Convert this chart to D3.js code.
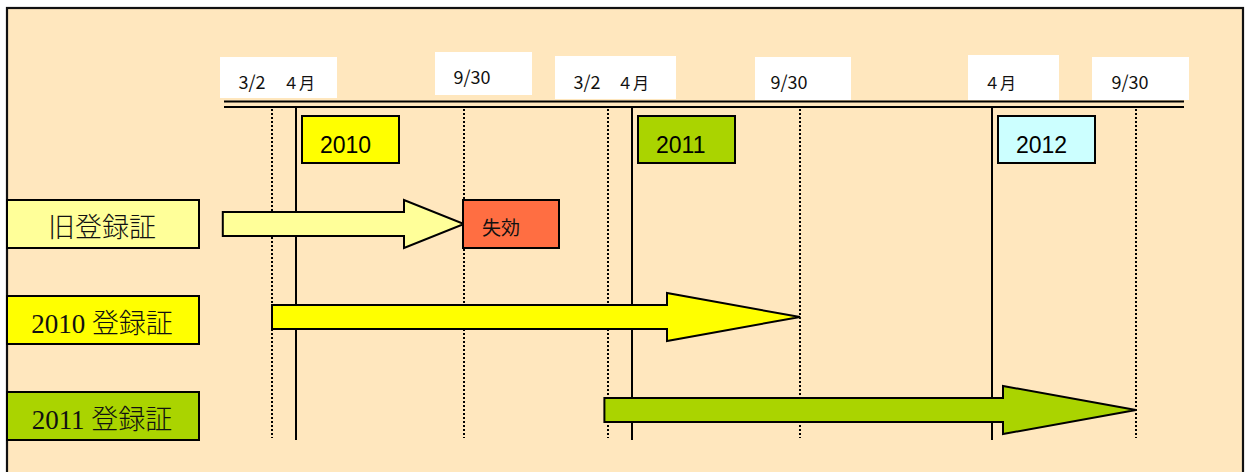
<!DOCTYPE html>
<html>
<head>
<meta charset="utf-8">
<script src="https://cdn.jsdelivr.net/npm/d3@7"></script>
<style>
  body { margin: 0; background: #fff; }
  svg { display: block; }
</style>
</head>
<body>
<svg></svg>
<script>
// ---- data ----
// schematic timeline positions (1 unit = one step on the drawing)
const tickPos = [0, 1, 8, 14, 15, 22, 30, 36];
const tickLabels = ['3/2', '４月', '9/30', '3/2', '４月', '9/30', '４月', '9/30'];
const tickKind = ['dot', 'solid', 'dot', 'dot', 'solid', 'dot', 'solid', 'dot'];

const years = ['2010', '2011', '2012'];
const yearTick = [1, 4, 6];   // index into tickPos (the 4月 lines)

const rowLabels = ['旧登録証', '2010 登録証', '2011 登録証'];
const arrowStart = [-2.05, 0, 13.85];
const arrowEnd = [8, 22, 36];
const expiredLabel = '失効';

// ---- layout / style ----
const size = {w: 1245, h: 472};
const bg = '#FFE7BE';
const rowFill = ['#FFFF99', '#FFFF00', '#AAD400'];
const yearFill = ['#FFFF00', '#AAD400', '#CCFFFF'];
const arrowHead = [60, 133, 133];
const arrowDy = [0, -3, -6];
const labelDx = [-20, 3, 8, -21, 1, -11, 8, -6];
const labelBase = [89, 89, 84, 89, 89, 89, 89, 89];
const labelBoxes = [
  {t: 0, dx: -52, w: 117, y: 57, h: 41},
  {t: 2, dx: -29, w: 97, y: 52, h: 43},
  {t: 3, dx: -53, w: 121, y: 56, h: 43},
  {t: 5, dx: -45, w: 96, y: 57, h: 43},
  {t: 6, dx: -24, w: 91, y: 55, h: 45},
  {t: 7, dx: -44, w: 97, y: 57, h: 43}
];

const svg = d3.select('svg')
  .attr('width', size.w)
  .attr('height', size.h);

const x = d3.scaleLinear().domain([0, 36]).range([272, 1136]);
const rowY = d3.scalePoint().domain(rowLabels).range([224, 416]);

// frame
svg.append('rect')
  .attr('x', 7).attr('y', 8)
  .attr('width', 1236).attr('height', 500)
  .attr('fill', bg)
  .attr('stroke', '#111')
  .attr('stroke-width', 2.2);

// white label boxes on top
svg.selectAll('rect.lbox')
  .data(labelBoxes)
  .join('rect')
  .classed('lbox', true)
  .attr('x', d => x(tickPos[d.t]) + d.dx)
  .attr('y', d => d.y)
  .attr('width', d => d.w)
  .attr('height', d => d.h)
  .attr('fill', '#fff');

svg.selectAll('text.tick')
  .data(tickLabels)
  .join('text')
  .classed('tick', true)
  .attr('x', (d, i) => x(tickPos[i]) + labelDx[i])
  .attr('y', (d, i) => labelBase[i])
  .attr('text-anchor', 'middle')
  .attr('font-family', '"Noto Sans CJK JP", sans-serif')
  .attr('font-size', d => d.startsWith('４') ? 16 : 18)
  .attr('fill', '#111')
  .text(d => d);

// double line axis
[101.5, 107].forEach(yy => {
  svg.append('line')
    .attr('x1', x(-2)).attr('x2', x(38))
    .attr('y1', yy).attr('y2', yy)
    .attr('stroke', '#000')
    .attr('stroke-width', 2.2);
});

// vertical lines
svg.selectAll('line.vl')
  .data(tickPos)
  .join('line')
  .classed('vl', true)
  .attr('x1', d => x(d)).attr('x2', d => x(d))
  .attr('y1', (d, i) => tickKind[i] === 'solid' ? 106 : 109)
  .attr('y2', (d, i) => tickKind[i] === 'solid' ? 440 : 438)
  .attr('stroke', '#000')
  .attr('stroke-width', 2)
  .attr('stroke-dasharray', (d, i) => tickKind[i] === 'solid' ? null : '2,2');

// year boxes
const yearG = svg.selectAll('g.year')
  .data(years)
  .join('g')
  .classed('year', true)
  .attr('transform', (d, i) => `translate(${x(tickPos[yearTick[i]]) + 6}, 116)`);

yearG.append('rect')
  .attr('width', 97).attr('height', 47)
  .attr('fill', (d, i) => yearFill[i])
  .attr('stroke', '#000')
  .attr('stroke-width', 2);

yearG.append('text')
  .attr('x', 18).attr('y', 37)
  .attr('font-family', '"Liberation Sans", Arial, sans-serif')
  .attr('font-size', 23)
  .attr('fill', '#000')
  .text(d => d);

// row labels
const rowG = svg.selectAll('g.row')
  .data(rowLabels)
  .join('g')
  .classed('row', true)
  .attr('transform', d => `translate(7, ${rowY(d)})`);

rowG.append('rect')
  .attr('y', -24)
  .attr('width', 192).attr('height', 48)
  .attr('fill', (d, i) => rowFill[i])
  .attr('stroke', '#000')
  .attr('stroke-width', 2);

rowG.append('text')
  .attr('x', 95).attr('y', 13)
  .attr('text-anchor', 'middle')
  .attr('font-family', '"Liberation Serif", "Noto Sans CJK JP", serif')
  .attr('font-weight', 300)
  .attr('font-size', 27)
  .attr('fill', '#111')
  .text(d => d);

// arrows
function arrowPath(x0, x1, cy, head) {
  const hx = x1 - head;
  return `M${x0},${cy - 12}L${hx},${cy - 12}L${hx},${cy - 24}L${x1},${cy}` +
    `L${hx},${cy + 24}L${hx},${cy + 12}L${x0},${cy + 12}Z`;
}

svg.selectAll('path.arrow')
  .data(rowLabels)
  .join('path')
  .classed('arrow', true)
  .attr('d', (d, i) => arrowPath(x(arrowStart[i]), x(arrowEnd[i]), rowY(d) + arrowDy[i], arrowHead[i]))
  .attr('fill', (d, i) => rowFill[i])
  .attr('stroke', '#000')
  .attr('stroke-width', 2)
  .attr('stroke-linejoin', 'miter');

// expired box
const exG = svg.append('g')
  .attr('transform', `translate(${x(arrowEnd[0]) - 1}, ${rowY(rowLabels[0]) - 24})`);
exG.append('rect')
  .attr('width', 96).attr('height', 48)
  .attr('fill', '#FF6E42')
  .attr('stroke', '#000')
  .attr('stroke-width', 2);
exG.append('text')
  .attr('x', 19).attr('y', 35)
  .attr('font-family', '"Noto Sans CJK JP", sans-serif')
  .attr('font-size', 19)
  .attr('fill', '#111')
  .text(expiredLabel);
</script>
</body>
</html>
